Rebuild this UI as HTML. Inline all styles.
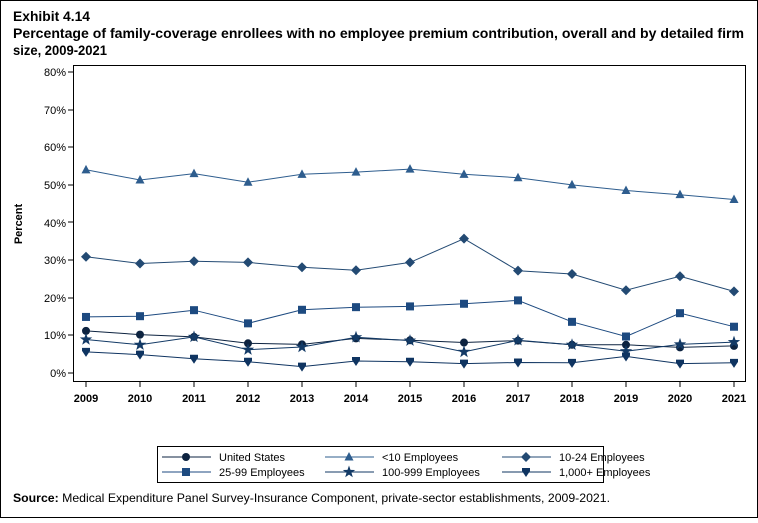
<!DOCTYPE html>
<html><head><meta charset="utf-8"><style>
body{margin:0;background:#fff}
svg text{font-family:"Liberation Sans",Arial,sans-serif}
</style></head><body>
<svg width="758" height="518" xmlns="http://www.w3.org/2000/svg">
<rect x="0.5" y="0.5" width="757" height="517" fill="#fff" stroke="#000"/>
<text x="13" y="21" font-size="13.5" font-weight="bold" textLength="77" lengthAdjust="spacingAndGlyphs">Exhibit 4.14</text>
<text x="13" y="38" font-size="13.5" font-weight="bold" textLength="731" lengthAdjust="spacingAndGlyphs">Percentage of family-coverage enrollees with no employee premium contribution, overall and by detailed firm</text>
<text x="13" y="55" font-size="13.5" font-weight="bold" textLength="94" lengthAdjust="spacingAndGlyphs">size, 2009-2021</text>
<rect x="73.5" y="65.5" width="672" height="316" fill="none" stroke="#000"/>
<g font-size="11" text-anchor="end" fill="#000">
<text x="66" y="76">80%</text><text x="66" y="114">70%</text><text x="66" y="151">60%</text><text x="66" y="189">50%</text><text x="66" y="227">40%</text><text x="66" y="264">30%</text><text x="66" y="302">20%</text><text x="66" y="339">10%</text><text x="66" y="377">0%</text>
</g>
<g stroke="#000"><line x1="68" x2="73" y1="72" y2="72"/><line x1="68" x2="73" y1="110" y2="110"/><line x1="68" x2="73" y1="147" y2="147"/><line x1="68" x2="73" y1="185" y2="185"/><line x1="68" x2="73" y1="222" y2="222"/><line x1="68" x2="73" y1="260" y2="260"/><line x1="68" x2="73" y1="298" y2="298"/><line x1="68" x2="73" y1="335" y2="335"/><line x1="68" x2="73" y1="373" y2="373"/></g>
<text transform="translate(22,224) rotate(-90)" font-size="11" font-weight="bold" text-anchor="middle">Percent</text>
<g id="xt" font-size="11" font-weight="bold" text-anchor="middle"></g>
<g id="series"></g>
<rect x="157.5" y="446.5" width="446" height="36" fill="none" stroke="#000"/>
<g id="leg" font-size="11"></g>
<text x="13" y="502" font-size="12" textLength="597" lengthAdjust="spacingAndGlyphs"><tspan font-weight="bold">Source:</tspan> Medical Expenditure Panel Survey-Insurance Component, private-sector establishments, 2009-2021.</text>
</svg>
<script>
const X=i=>86+54*i, Y=v=>373-3.7625*v;
const xt=document.getElementById('xt');
let h='';
for(let i=0;i<13;i++){h+=`<text x="${X(i)}" y="402">${2009+i}</text><line x1="${X(i)}" x2="${X(i)}" y1="382" y2="387" stroke="#000"/>`;}
xt.innerHTML=h;
function mk(t,x,y,c){
 if(t=='c')return `<circle cx="${x}" cy="${y}" r="4" fill="${c}"/>`;
 if(t=='t')return `<polygon points="${x},${y-5} ${x+4.5},${y+3.5} ${x-4.5},${y+3.5}" fill="${c}"/>`;
 if(t=='d')return `<polygon points="${x},${y-5} ${x+5},${y} ${x},${y+5} ${x-5},${y}" fill="${c}"/>`;
 if(t=='s')return `<rect x="${x-4}" y="${y-4}" width="8" height="8" fill="${c}"/>`;
 if(t=='st'){let p=[];for(let k=0;k<10;k++){let r=k%2?2.6:6.5,a=-Math.PI/2+k*Math.PI/5;p.push((x+r*Math.cos(a)).toFixed(1)+','+(y+r*Math.sin(a)).toFixed(1));}return `<polygon points="${p.join(' ')}" fill="${c}"/>`;}
 if(t=='v')return `<path d="M${x-4},${y-4} h8 v3 l-4,6 l-4,-6 z" fill="${c}"/>`;
}
const S=[
["United States","c","#0d2340",[11.2,10.2,9.6,7.9,7.6,9.2,8.7,8.1,8.6,7.5,7.5,6.8,7.2]],
["<10 Employees","t","#2e5d8e",[54,51.3,53,50.7,52.8,53.4,54.2,52.8,51.9,50,48.5,47.4,46.1]],
["10-24 Employees","d","#234a73",[30.9,29.1,29.7,29.4,28.1,27.3,29.4,35.7,27.2,26.3,22,25.7,21.7]],
["25-99 Employees","s","#1d4a80",[14.9,15.1,16.7,13.2,16.8,17.5,17.7,18.4,19.3,13.6,9.7,15.9,12.3]],
["100-999 Employees","st","#133a66",[8.9,7.5,9.6,6.2,6.9,9.5,8.6,5.6,8.7,7.5,5.8,7.6,8.2]],
["1,000+ Employees","v","#0f3461",[5.6,4.9,3.8,3.0,1.7,3.2,3.0,2.5,2.8,2.7,4.4,2.5,2.7]]];
let s='',l='';
S.forEach((d,j)=>{
 s+=`<polyline fill="none" stroke="${d[2]}" stroke-width="1" points="${d[3].map((v,i)=>X(i)+','+Y(v).toFixed(1)).join(' ')}"/>`;
 d[3].forEach((v,i)=>s+=mk(d[1],X(i),Y(v),d[2]));
 const cx=[162,325,502][j%3], cy=j<3?457:472;
 l+=`<line x1="${cx}" x2="${cx+49}" y1="${cy}" y2="${cy}" stroke="${d[2]}"/>`+mk(d[1],cx+24,cy,d[2])+`<text x="${cx+57}" y="${cy+4}">${d[0].replace('<','&lt;')}</text>`;
});
document.getElementById('series').innerHTML=s;
document.getElementById('leg').innerHTML=l;
</script>
</body></html>
